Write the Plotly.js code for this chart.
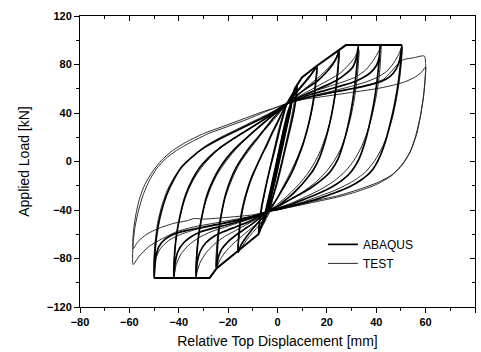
<!DOCTYPE html>
<html><head><meta charset="utf-8">
<script src="https://cdn.plot.ly/plotly-3.0.1.min.js"></script>
<style>html,body{margin:0;padding:0;background:#fff}#chart{width:481px;height:352px}</style>
</head><body><div id="chart"></div>
<script>
// ---- ABAQUS (thick) ----
const abqEnvPos = [[0,0],[7,60],[9.9,69.4],[16,79],[27.7,96],[50.4,96]];
const abqEnvNeg = [[0,0],[-4,-37],[-7.7,-60],[-24.6,-88],[-27.5,-96],[-50,-96]];
const abq50 = [[50.4,96],[50,84],[49,66],[47.5,48],[45.5,30],[43.5,15],[41,2],[38,-8],[34,-15],[29,-21],[23,-26],[16,-31],[9,-35],[3,-38],[-1,-40],[-4,-41],
 [-8,-44],[-15,-48],[-22,-51],[-30,-54],[-37,-57],[-42,-60],[-45.5,-64],[-48,-70],[-49.3,-79],[-50,-96],
 [-49.8,-80],[-49,-62],[-47.5,-45],[-45,-28],[-42,-15],[-39,-5],[-35,3],[-30,11],[-24,18],[-17,25],[-10,32],[-4,38],[0,43],[3.7,47.5],
 [8,50.5],[15,54],[22,57],[30,60],[37,63],[42,66],[45.5,70],[48,76],[49.5,84],[50.4,96]];
const abq42 = [[41.6,96],[41.2,84],[40.3,66],[39,48],[37.2,30],[35.3,15],[33,2],[30,-8],[26.5,-15],[22,-21],[17,-26],[11,-31],[6,-35],[1,-38],[-2,-40],[-4,-41],
 [-8,-45],[-14,-48.5],[-20,-52],[-26,-55],[-31,-58],[-35,-62],[-38,-67],[-40.3,-74],[-41.4,-83],[-42,-96],
 [-41.8,-80],[-41,-62],[-39.5,-45],[-37.3,-28],[-34.5,-15],[-31.5,-5],[-28,3],[-23.5,11],[-18.5,18],[-13,25],[-7.5,32],[-3,38],[0.5,43],[3.7,47.5],
 [8,51],[13,55],[19,58.5],[25,62],[30,65],[34,68.5],[37.5,73],[40,79],[41.2,86],[41.6,96]];
const abq33 = [[32.8,96],[32.4,84],[31.5,66],[30.3,48],[28.6,30],[26.7,15],[24.5,2],[21.5,-8],[18,-15],[14,-21],[10,-26],[5.5,-31],[2,-35],[-1,-38],[-3,-40],[-4,-41],
 [-8,-46],[-12,-50],[-17,-54],[-22,-58],[-26,-62],[-29,-67],[-31.3,-74],[-32.5,-83],[-33,-96],
 [-32.8,-80],[-32,-62],[-30.6,-45],[-28.6,-28],[-26,-15],[-23.3,-5],[-20.5,3],[-17,11],[-13.3,18],[-9.5,25],[-5.5,32],[-2,38],[1,43],[3.7,47.5],
 [7,51],[11,55],[15.5,59],[20,63],[24,67],[27.5,72],[30.5,78],[32,86],[32.8,96]];
const abq25 = [[25,92],[24.6,80],[23.8,63],[22.6,46],[21,30],[19,15],[17,3],[14.5,-7],[11.5,-15],[8.5,-22],[5.5,-28],[2.5,-33],[0,-37],[-2,-39.5],[-4,-41],
 [-7,-46],[-10,-51],[-13.5,-56],[-17,-61],[-20,-66],[-22.5,-72],[-24,-79],[-24.6,-88],
 [-24.4,-74],[-23.8,-58],[-22.6,-42],[-21,-27],[-18.8,-14],[-16.5,-4],[-14,4],[-11.2,12],[-8.3,19],[-5.5,26],[-2.8,33],[-0.3,39],[2,44],[3.7,47.5],
 [6.5,52],[9.5,57],[13,62],[16.5,67],[19.5,73],[22,79],[23.8,85],[25,92]];
const abq16 = [[16,79],[15.6,68],[14.8,54],[13.6,40],[12,26],[10.3,14],[8.5,4],[6.5,-6],[4.3,-15],[2,-23],[0,-30],[-2,-36],[-4,-41],
 [-6,-46],[-8.5,-52],[-11,-58],[-13.2,-64],[-14.8,-69],[-16,-75],
 [-15.7,-62],[-15,-48],[-13.8,-35],[-12.2,-23],[-10.3,-12],[-8.3,-3],[-6.2,6],[-4,15],[-2,24],[0,32],[1.8,40],[3.7,47.5],
 [6,53],[8.5,59],[11,65],[13,70],[14.8,75],[16,79]];
const abq8 = [[8,62],[7.5,52],[6.5,40],[5.2,28],[3.8,16],[2.4,4],[1,-8],[-0.5,-20],[-2,-30],[-3.2,-37],[-4,-41],
 [-5,-46],[-6,-51],[-7,-56],[-7.7,-60],
 [-7.3,-50],[-6.5,-38],[-5.3,-26],[-4,-14],[-2.7,-3],[-1.3,8],[0,19],[1.3,30],[2.5,39],[3.7,47.5],
 [5,52],[6.2,56],[7.2,59],[8,62]];
const abq6 = [[6,52],[5,40],[3.5,26],[2,12],[0.5,-2],[-1,-16],[-2.5,-28],[-4,-40],[-5.5,-50],[-4.5,-38],[-3,-25],[-1.5,-11],[0,3],[1.5,17],[3,30],[4.5,42],[6,52]];
const abq4 = [[4,36],[2.8,24],[1.5,12],[0.2,0],[-1,-12],[-2.2,-24],[-3.5,-35],[-2.5,-23],[-1.2,-11],[0,1],[1.3,13],[2.6,25],[4,36]];

// ---- TEST (thin) ----
const test60a = [[4,48],[10,52],[20,56],[30,60],[38,64],[43,68],[46,74],[49,81],[51,84],[55,85.5],[59.5,87],
 [60,80],[59.8,68],[59,52],[57.7,36],[55.8,20],[53.5,7],[50.5,-3],[46,-12],[40,-19],[32,-25],[24,-29.5],[16,-33],[8,-36.5],[2,-39],[-3,-41],
 [-10,-45],[-18,-48],[-26,-51],[-34,-54],[-41,-58],[-47,-64],[-52,-70],[-56,-78],[-58.5,-85],
 [-58.7,-78],[-58.5,-68],[-57.8,-55],[-56.5,-42],[-54.5,-28],[-52,-16],[-49,-6],[-45.5,2],[-41,9],[-35,16],[-28,23],[-20,29],[-12,35],[-5,41],[0,45],[4,48]];
const test60b = [[4,48],[10,51],[20,54],[30,57],[40,60],[47,63],[52,66],[56,70],[58.5,74],[60,78],
 [59.8,68],[59.2,54],[58,38],[56.3,22],[54,9],[51,-1],[47,-10],[41,-17],[33,-23],[25,-28],[16,-32],[8,-36],[2,-39],[-3,-41],
 [-10,-44],[-20,-46],[-30,-47.5],[-34,-47],[-36,-48.5],[-42,-51],[-48,-55],[-53,-60],[-56.5,-66],[-58.5,-72],
 [-58.6,-65],[-58.2,-55],[-57.3,-43],[-55.8,-30],[-53.5,-18],[-50.5,-8],[-47,1],[-42.5,9],[-37,16],[-30,23],[-22,29],[-14,35],[-6,41],[0,45],[4,48]];
const test50 = [[4,48],[10,52],[20,57],[28,61],[35,65],[40,69],[44,74],[47,81],[49,88],[50.5,95],
 [50.3,85],[49.6,70],[48.4,54],[46.8,38],[44.8,24],[42.5,12],[39.5,1],[35.5,-9],[30,-17],[23,-24],[15,-30],[8,-35],[2,-38.5],[-3,-41],
 [-10,-45],[-18,-49],[-26,-53],[-33,-56],[-39,-60],[-44,-65],[-47.5,-72],[-49.3,-80],[-50,-88],
 [-50,-78],[-49.5,-65],[-48.5,-50],[-46.8,-36],[-44.5,-23],[-41.5,-12],[-38,-3],[-34,5],[-29,13],[-23,20],[-16,27],[-9,34],[-3,40],[1,44.5],[4,48]];
const test42 = [[4,48],[9,53],[15,58],[21,62],[27,66],[32,70],[36,76],[39,84],[41,91],[42,97],
 [41.8,86],[41.2,70],[40,54],[38.3,38],[36.3,24],[34,12],[31,1],[27.5,-8],[23,-16],[17.5,-23],[11.5,-29],[6,-34],[1,-38],[-3,-41],
 [-9,-46],[-15,-50],[-21,-54],[-27,-58],[-32,-63],[-36,-69],[-39,-76],[-41,-85],[-42,-94],
 [-41.8,-80],[-41.2,-65],[-40,-50],[-38.3,-36],[-36,-23],[-33.2,-12],[-30,-3],[-26.5,5],[-22,13],[-17,20],[-11.5,27],[-6,34],[-1,40],[2,44.5],[4,48]];
const test33 = [[4,48],[8,53],[12.5,58],[17,63],[21.5,68],[25.5,73],[28.5,79],[31,85],[33,92],
 [32.8,82],[32.2,67],[31.1,51],[29.6,36],[27.7,22],[25.5,10],[22.8,0],[19.5,-9],[15.5,-17],[11,-24],[6.5,-30],[2,-35],[-1,-38.5],[-3,-41],
 [-8,-47],[-12.5,-52],[-17,-57],[-21.5,-62],[-25.5,-68],[-28.8,-75],[-31.3,-83],[-33,-93],
 [-32.8,-80],[-32.2,-65],[-31.1,-50],[-29.5,-36],[-27.3,-23],[-24.8,-12],[-22,-3],[-19,5],[-15.5,13],[-11.5,21],[-7.5,28],[-3.5,35],[0,41],[4,48]];
const test25 = [[4,48],[7,53],[10.5,59],[14,65],[17.5,71],[20.5,77],[23,83],[25,90],
 [24.7,79],[24,64],[22.9,49],[21.4,34],[19.6,21],[17.4,9],[15,-1],[12.2,-10],[9,-18],[5.7,-25],[2.5,-31],[-0.5,-36],[-3,-41],
 [-6.5,-48],[-10,-54],[-13.5,-60],[-17,-66],[-20,-72],[-22.7,-79],[-25,-88],
 [-24.8,-75],[-24.2,-60],[-23.1,-46],[-21.5,-32],[-19.5,-20],[-17.2,-9],[-14.8,0],[-12,8],[-9,16],[-6,24],[-3,31],[0,38],[2.3,44],[4,48]];
const test16 = [[4,48],[6,54],[8.5,60],[11,66],[13.5,72],[16,78],
 [15.7,68],[15,55],[13.9,42],[12.4,29],[10.6,17],[8.6,6],[6.4,-4],[4,-14],[1.7,-23],[-0.6,-32],[-3,-41],
 [-5.5,-48],[-8.5,-55],[-11.5,-62],[-14,-69],[-16,-75],
 [-15.7,-64],[-15,-51],[-13.9,-38],[-12.4,-26],[-10.6,-15],[-8.6,-5],[-6.5,5],[-4.3,15],[-2,25],[0.2,34],[2.2,41],[4,48]];
const test8 = [[4,48],[5.2,53],[6.5,58],[7.5,62],
 [7,52],[6,40],[4.8,28],[3.5,16],[2.2,4],[0.8,-8],[-0.7,-20],[-2,-31],[-3,-41],
 [-4.5,-47],[-6,-53],[-7.5,-58],
 [-7,-48],[-6.1,-36],[-5,-24],[-3.8,-12],[-2.5,0],[-1.2,12],[0.2,24],[1.6,35],[2.8,42],[4,48]];
const test5 = [[5,45],[3.5,30],[2,15],[0.5,0],[-1,-15],[-2.5,-30],[-4.5,-43],[-3.3,-30],[-1.8,-15],[-0.3,0],[1.2,15],[2.7,30],[4.2,42],[5,45]];

function joinLoops(loops){
  const x=[], y=[];
  loops.forEach(l=>{ l.forEach(p=>{x.push(p[0]); y.push(p[1]);}); x.push(null); y.push(null); });
  return {x, y};
}
const tst = joinLoops([test60a,test60b,test50,test42,test33,test25,test16,test8,test5]);
const abq = joinLoops([abq50,abq42,abq33,abq25,abq16,abq8,abq6,abq4]);
const env = joinLoops([abqEnvPos,abqEnvNeg]);

const FONT = 'Liberation Sans, Arial, sans-serif';
const traces = [
  {x:tst.x, y:tst.y, mode:'lines', name:'TEST', line:{color:'#2a2a2a', width:1, shape:'spline', smoothing:0.6}, connectgaps:false, legendrank:2},
  {x:abq.x, y:abq.y, mode:'lines', name:'ABAQUS', line:{color:'#000', width:1.7, shape:'spline', smoothing:0.6}, connectgaps:false, legendgroup:'abq', legendrank:1},
  {x:env.x, y:env.y, mode:'lines', name:'ABAQUS', line:{color:'#000', width:2}, connectgaps:false, legendgroup:'abq', showlegend:false},
  {x:[null], y:[null], xaxis:'x2', yaxis:'y2', mode:'lines', showlegend:false, hoverinfo:'skip'}
];
const axBase = {showline:true, linecolor:'#000', linewidth:1, zeroline:false, showgrid:false, tickcolor:'#000', tickwidth:1};
const tickF = {family:FONT, size:11, color:'#000', weight:'bold'};
const layout = {
  width:481, height:352,
  margin:{l:80, r:6, t:16, b:45},
  paper_bgcolor:'#fff', plot_bgcolor:'#fff',
  font:{family:FONT, color:'#000'},
  showlegend:true,
  legend:{x:0.615, y:0.265, xanchor:'left', yanchor:'top', tracegroupgap:0, bgcolor:'rgba(0,0,0,0)', font:{family:FONT, size:12, color:'#000'}},
  xaxis:Object.assign({}, axBase, {range:[-80,80], tick0:0, dtick:20, ticks:'outside', ticklen:5,
    minor:{dtick:10, ticks:'outside', ticklen:3, tickcolor:'#000', showgrid:false},
    tickfont:tickF,
    title:{text:'Relative Top Displacement [mm]', font:{family:FONT, size:14, color:'#000'}, standoff:8}}),
  yaxis:Object.assign({}, axBase, {range:[-120,120], tick0:0, dtick:40, ticks:'outside', ticklen:5,
    minor:{dtick:20, ticks:'outside', ticklen:3, tickcolor:'#000', showgrid:false},
    tickfont:tickF,
    title:{text:'Applied Load [kN]', font:{family:FONT, size:14, color:'#000'}, standoff:14}}),
  xaxis2:Object.assign({}, axBase, {overlaying:'x', side:'top', anchor:'y2', range:[-80,80], tick0:0, dtick:20, ticks:'inside', ticklen:5,
    minor:{dtick:10, ticks:'inside', ticklen:3, tickcolor:'#000', showgrid:false}, showticklabels:false}),
  yaxis2:Object.assign({}, axBase, {overlaying:'y', side:'right', anchor:'x2', range:[-120,120], tick0:0, dtick:40, ticks:'inside', ticklen:5,
    minor:{dtick:20, ticks:'inside', ticklen:3, tickcolor:'#000', showgrid:false}, showticklabels:false})
};
Plotly.newPlot('chart', traces, layout, {staticPlot:true, displayModeBar:false});
</script>
</body></html>
